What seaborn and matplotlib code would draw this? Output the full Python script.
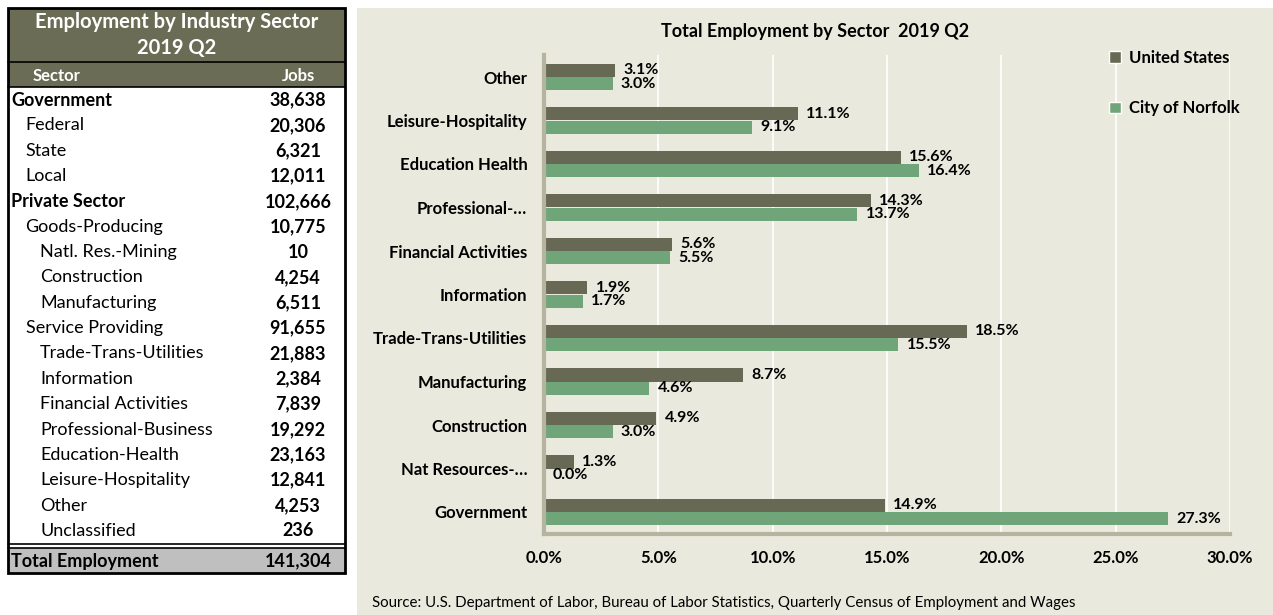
import numpy as np
import pandas as pd
import matplotlib
matplotlib.use("Agg")
import matplotlib.pyplot as plt
from matplotlib.patches import Rectangle, Patch
import seaborn as sns

# -------------------------------------------------------
# Data
# -------------------------------------------------------
sectors = ["Other", "Leisure-Hospitality", "Education Health", "Professional-…",
           "Financial Activities", "Information", "Trade-Trans-Utilities",
           "Manufacturing", "Construction", "Nat Resources-…", "Government"]
us_pct = [3.1, 11.1, 15.6, 14.3, 5.6, 1.9, 18.5, 8.7, 4.9, 1.3, 14.9]
norfolk_pct = [3.0, 9.1, 16.4, 13.7, 5.5, 1.7, 15.5, 4.6, 3.0, 0.0, 27.3]
x_ticks = [0, 5, 10, 15, 20, 25, 30]

table_labels = ["Government", "Federal", "State", "Local", "Private Sector",
                "Goods-Producing", "Natl. Res.-Mining", "Construction", "Manufacturing",
                "Service Providing", "Trade-Trans-Utilities", "Information",
                "Financial Activities", "Professional-Business", "Education-Health",
                "Leisure-Hospitality", "Other", "Unclassified"]
table_jobs = ["38,638", "20,306", "6,321", "12,011", "102,666", "10,775", "10",
              "4,254", "6,511", "91,655", "21,883", "2,384", "7,839", "19,292",
              "23,163", "12,841", "4,253", "236"]
table_level = [0, 1, 1, 1, 0, 1, 2, 2, 2, 1, 2, 2, 2, 2, 2, 2, 2, 2]
total_label, total_jobs = "Total Employment", "141,304"

# -------------------------------------------------------
# Style
# -------------------------------------------------------
sns.set_theme(style="white")
plt.rcParams["font.family"] = ["Lato", "DejaVu Sans"]
plt.rcParams["text.color"] = "black"
plt.rcParams["xtick.labelcolor"] = "black"
plt.rcParams["ytick.labelcolor"] = "black"

US_COL = "#686955"
NOR_COL = "#70a57a"
PANEL = "#eae9dd"
AXIS_COL = "#b4b4a0"
OLIVE = "#6b6c55"

W, H = 1273, 615
fig = plt.figure(figsize=(W / 100, H / 100), dpi=100)
fig.patch.set_facecolor("white")


def fx(x):
    return x / W


def fy(y):
    return 1 - y / H


def rect(x0, y0, x1, y1, **kw):
    fig.patches.append(Rectangle((fx(x0), fy(y1)), fx(x1) - fx(x0), fy(y0) - fy(y1),
                                 transform=fig.transFigure, **kw))


def hline(y, x0, x1, lw=1.5):
    fig.add_artist(plt.Line2D([fx(x0), fx(x1)], [fy(y), fy(y)], color="black",
                              lw=lw, transform=fig.transFigure))


# -------------------------------------------------------
# Left table
# -------------------------------------------------------
TL, TR = 8, 345
rect(TL, 8, TR, 62, facecolor=OLIVE, edgecolor="none")
rect(TL, 62, TR, 87, facecolor=OLIVE, edgecolor="none")
rect(TL, 548, TR, 573, facecolor="#bfbfbf", edgecolor="none")
rect(TL, 8, TR, 573, facecolor="none", edgecolor="black", lw=2)
hline(62, TL, TR, 1.2)
hline(87, TL, TR, 1.2)
hline(544, TL, TR, 1.2)
hline(548, TL, TR, 1.2)

fig.text(fx(177), fy(22), "Employment by Industry Sector", color="white",
         fontsize=14.5, fontweight="bold", ha="center", va="center")
fig.text(fx(177), fy(48), "2019 Q2", color="white",
         fontsize=14.5, fontweight="bold", ha="center", va="center")
fig.text(fx(33), fy(76), "Sector", color="white", fontsize=12,
         fontweight="bold", ha="left", va="center")
fig.text(fx(298), fy(76), "Jobs", color="white", fontsize=12,
         fontweight="bold", ha="center", va="center")

row_h = 25.35
for i, (lab, jobs, lvl) in enumerate(zip(table_labels, table_jobs, table_level)):
    y = 100 + i * row_h
    fig.text(fx(11 + 14.5 * lvl), fy(y), lab, fontsize=13,
             fontweight="bold" if lvl == 0 else "normal",
             ha="left", va="center", color="black")
    fig.text(fx(298), fy(y), jobs, fontsize=13, fontweight="bold",
             ha="center", va="center", color="black")
fig.text(fx(11), fy(561), total_label, fontsize=13, fontweight="bold",
         ha="left", va="center")
fig.text(fx(298), fy(561), total_jobs, fontsize=13, fontweight="bold",
         ha="center", va="center")

# -------------------------------------------------------
# Chart panel
# -------------------------------------------------------
rect(357, 8, W, H, facecolor=PANEL, edgecolor="none", zorder=-10)

df = pd.DataFrame({
    "sector": sectors * 2,
    "pct": us_pct + norfolk_pct,
    "area": ["United States"] * len(sectors) + ["City of Norfolk"] * len(sectors),
})

ax = fig.add_axes([fx(544), fy(533.75), fx(1230) - fx(544), (533.75 - 55.25) / H])
ax.set_facecolor(PANEL)
sns.barplot(data=df, x="pct", y="sector", hue="area", orient="h",
            order=sectors, hue_order=["United States", "City of Norfolk"],
            palette={"United States": US_COL, "City of Norfolk": NOR_COL},
            width=0.6, legend=False, ax=ax, saturation=1, linewidth=0)

for cont in ax.containers:
    ax.bar_label(cont, fmt="%.1f%%", padding=6, fontsize=11.5, fontweight="bold",
                 color="black")

ax.set_xlim(0, 30)
ax.set_ylim(len(sectors) - 0.5, -0.5)
ax.set_xticks(x_ticks)
ax.set_xticklabels([f"{t:.1f}%" for t in x_ticks], fontsize=12, fontweight="bold")
ax.set_yticks(np.arange(len(sectors)))
ax.set_yticklabels(sectors, fontsize=12, fontweight="bold")
ax.set_yticks(np.arange(-0.5, len(sectors), 1), minor=True)
ax.tick_params(axis="y", which="major", length=0, pad=12)
ax.tick_params(axis="y", which="minor", length=6, width=3, color=AXIS_COL)
ax.tick_params(axis="x", which="major", length=6, width=3, color=AXIS_COL, pad=6)
ax.grid(axis="x", color="white", lw=1.2)
ax.set_axisbelow(True)
ax.set_xlabel("")
ax.set_ylabel("")
for s in ["top", "right"]:
    ax.spines[s].set_visible(False)
for s in ["left", "bottom"]:
    ax.spines[s].set_color(AXIS_COL)
    ax.spines[s].set_linewidth(3)

fig.text(fx(815), fy(32), "Total Employment by Sector  2019 Q2", fontsize=13,
         fontweight="bold", ha="center", va="center")

handles = [Patch(facecolor=US_COL, label="United States"),
           Patch(facecolor=NOR_COL, label="City of Norfolk")]
fig.legend(handles=handles, loc="upper left", bbox_to_anchor=(fx(1094), fy(35)),
           frameon=False, handlelength=0.7, handleheight=0.7, handletextpad=0.5,
           labelspacing=2.05, prop={"weight": "bold", "size": 12})

fig.text(fx(372), fy(603), "Source: U.S. Department of Labor, Bureau of Labor Statistics, "
         "Quarterly Census of Employment and Wages", fontsize=10.8,
         ha="left", va="center")

fig.savefig("out.png", dpi=100)
